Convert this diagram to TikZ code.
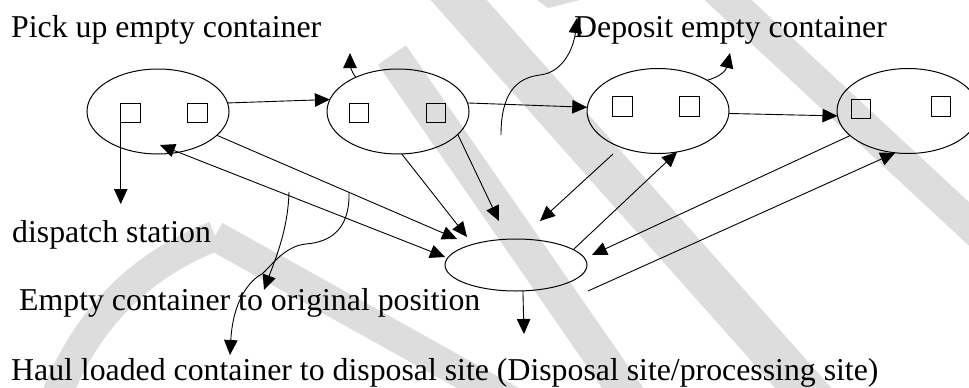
\documentclass[tikz,border=0pt]{standalone}
\usepackage{fontspec}
\setmainfont{Liberation Serif}
\usetikzlibrary{arrows.meta,shapes.geometric}
\definecolor{wmark}{RGB}{221,221,221}

\begin{document}
\begin{tikzpicture}[x=1pt,y=-1pt,
 site/.style={draw,ellipse,minimum width=142pt,minimum height=85pt,inner sep=0pt,outer sep=0pt,line width=1pt},
 bin/.style={draw,minimum size=19.5pt,inner sep=0pt,outer sep=0pt,line width=0.9pt},
 lbl/.style={anchor=base west,inner sep=0pt,font=\fontsize{31.8}{38}\selectfont},
 tip/.tip={Triangle[length=15pt,width=13.5pt]},
 arr/.style={-tip,line width=0.9pt},
 band/.style={draw=wmark,line width=#1}]

\useasboundingbox (0,0) rectangle (969,388);

% watermark stripes
\begin{scope}
 \clip (0,0) rectangle (969,388);
 \draw[band=42] (424,-39) -- (838,427);
 \draw[band=32] (700,-26) -- (1010,262);
 \draw[band=34] (392,55) -- (640,413);
 \draw[band=30] (215,236) -- (520,406);
 \draw[band=30] (55,400) .. controls (85,320) and (140,265) .. (215,236);
 \fill[wmark] (537,0) -- (580,0) -- (548,8) -- cycle;
\end{scope}

% texts
\node[lbl] (tpick) at (11,37) {Pick up empty container};
\node[lbl] (tdep) at (574,37) {Deposit empty container};
\node[lbl] (tdsp) at (12,242) {dispatch station};
\node[lbl] (temp) at (19,310) {Empty container to original position};
\node[lbl] (thaul) at (11,380) {Haul loaded container to disposal site (Disposal site/processing site)};

% stations and disposal site
\begin{scope}
 \clip (0,0) rectangle (969,388);
 \node[site] (st1) at (158,111.5) {};
 \node[site] (st2) at (398,111.5) {};
 \node[site] (st3) at (658,111) {};
 \node[site] (st4) at (908,111) {};
\end{scope}
\node[site,minimum height=52pt] (yard) at (516,265) {};

\node[bin] (c1a) at (130.5,113) {}; \node[bin] (c1b) at (197.5,113) {};
\node[bin] (c2a) at (359,113) {};   \node[bin] (c2b) at (436,113) {};
\node[bin] (c3a) at (622.5,106.5) {}; \node[bin] (c3b) at (689.5,106.5) {};
\node[bin] (c4a) at (861,109) {};   \node[bin] (c4b) at (941,106.5) {};

% free ends
\coordinate (dsp) at (120.75,204);
\coordinate (r1) at (160,145);
\coordinate (r2) at (445,257);
\coordinate (h1) at (457,239);
\coordinate (h2) at (467,237);
\coordinate (h3) at (499,221);
\coordinate (d0) at (613,154);
\coordinate (d1) at (540,221);
\coordinate (h4) at (592,255);
\coordinate (q0) at (588,291);
\coordinate (out) at (524,334);
\coordinate (up2) at (350,53);
\coordinate (up3) at (730,53);
\coordinate (dep0) at (501,135);
\coordinate (dep1) at (577,18);
\coordinate (k1) at (289,192);
\coordinate (k1e) at (264,290);
\coordinate (k2) at (349,192);
\coordinate (k2e) at (230,355);

% route
\draw[arr] (st1.7) -- (st2.170);
\draw[arr] (st2.7) -- (st3.177);
\draw[arr] (st3.-2) -- (st4.184);
\draw[arr] (c1a.south west) -- (dsp);

\draw[arr,tip-tip] (r1) -- (r2);
\draw[arr] (st1.-22) -- (h1);
\draw[arr] (st2.-85) -- (h2);
\draw[arr] (st2.-21) -- (h3);
\draw[arr] (d0) -- (d1);
\draw[arr] (yard.15) -- (st3.-65);
\draw[arr] (st4.203) -- (h4);
\draw[arr] (q0) -- (st4.253);
\draw[arr] (yard.-75) -- (out);

\draw[arr] (st2.141) .. controls (351,71) and (350,65) .. (up2);
\draw[arr] (st3.32) .. controls (722,76) and (726,70) .. (up3);
\draw[arr] (dep0) .. controls (501,95) and (515,78) .. (540,75)
 .. controls (565,72) and (574,45) .. (dep1);

\draw[arr] (k1) .. controls (288,230) and (275,260) .. (k1e);
\draw[arr] (k2) .. controls (350,230) and (330,242) .. (306,244)
 .. controls (285,246) and (272,265) .. (262,274)
 .. controls (250,280) and (233,300) .. (k2e);

\end{tikzpicture}
\end{document}
